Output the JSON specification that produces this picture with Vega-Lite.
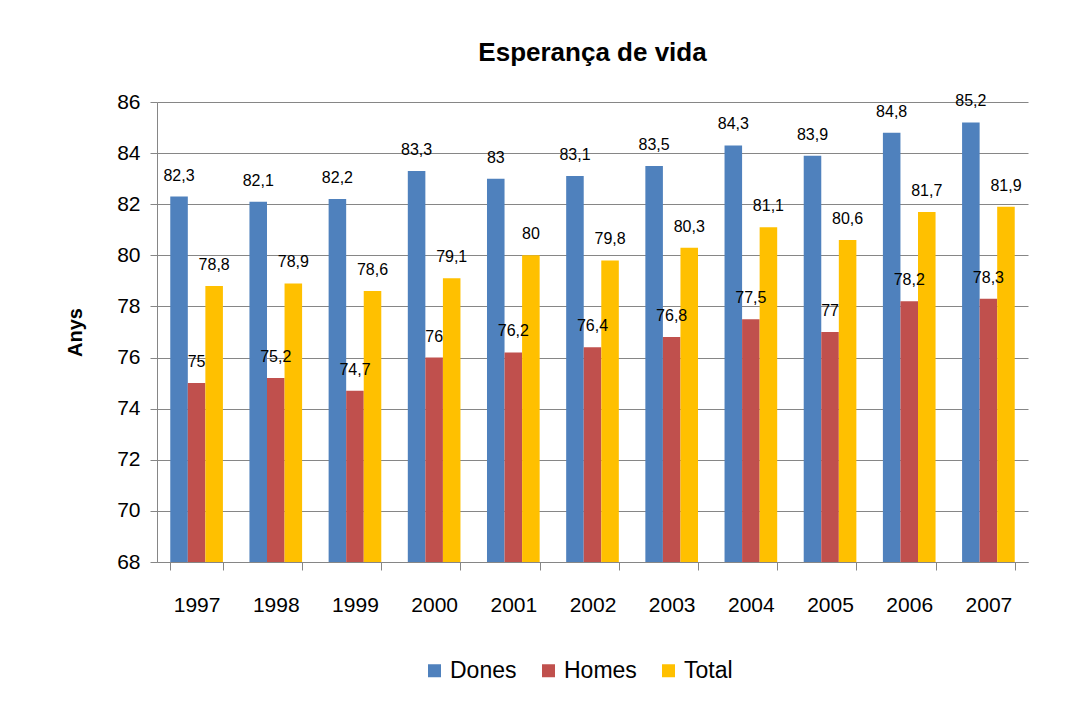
{
  "$schema": "https://vega.github.io/schema/vega-lite/v6.json",
  "width": 871,
  "height": 460,
  "autosize": {"type": "none"},
  "padding": {"left": 157, "top": 102, "right": 39, "bottom": 144},
  "background": "white",
  "title": {"text": "Esperança de vida", "font": "Liberation Sans", "fontSize": 26, "fontWeight": "bold", "color": "#000000", "anchor": "middle", "offset": 25},
  "config": {
    "view": {"stroke": null},
    "locale": {"number": {"decimal": ",", "thousands": ".", "grouping": [3], "currency": ["", " €"]}},
    "font": "Liberation Sans"
  },
  "data": {"values": [
    {"any": "1997", "serie": "Dones", "valor": 82.3}, {"any": "1997", "serie": "Homes", "valor": 75}, {"any": "1997", "serie": "Total", "valor": 78.8},
    {"any": "1998", "serie": "Dones", "valor": 82.1}, {"any": "1998", "serie": "Homes", "valor": 75.2}, {"any": "1998", "serie": "Total", "valor": 78.9},
    {"any": "1999", "serie": "Dones", "valor": 82.2}, {"any": "1999", "serie": "Homes", "valor": 74.7}, {"any": "1999", "serie": "Total", "valor": 78.6},
    {"any": "2000", "serie": "Dones", "valor": 83.3}, {"any": "2000", "serie": "Homes", "valor": 76}, {"any": "2000", "serie": "Total", "valor": 79.1},
    {"any": "2001", "serie": "Dones", "valor": 83}, {"any": "2001", "serie": "Homes", "valor": 76.2}, {"any": "2001", "serie": "Total", "valor": 80},
    {"any": "2002", "serie": "Dones", "valor": 83.1}, {"any": "2002", "serie": "Homes", "valor": 76.4}, {"any": "2002", "serie": "Total", "valor": 79.8},
    {"any": "2003", "serie": "Dones", "valor": 83.5}, {"any": "2003", "serie": "Homes", "valor": 76.8}, {"any": "2003", "serie": "Total", "valor": 80.3},
    {"any": "2004", "serie": "Dones", "valor": 84.3}, {"any": "2004", "serie": "Homes", "valor": 77.5}, {"any": "2004", "serie": "Total", "valor": 81.1},
    {"any": "2005", "serie": "Dones", "valor": 83.9}, {"any": "2005", "serie": "Homes", "valor": 77}, {"any": "2005", "serie": "Total", "valor": 80.6},
    {"any": "2006", "serie": "Dones", "valor": 84.8}, {"any": "2006", "serie": "Homes", "valor": 78.2}, {"any": "2006", "serie": "Total", "valor": 81.7},
    {"any": "2007", "serie": "Dones", "valor": 85.2}, {"any": "2007", "serie": "Homes", "valor": 78.3}, {"any": "2007", "serie": "Total", "valor": 81.9}
  ]},
  "encoding": {
    "x": {"field": "any", "type": "nominal", "scale": {"paddingInner": 0.335, "paddingOuter": 0.1675},
      "axis": {"title": null, "labelAngle": 0, "labelFontSize": 21, "labelColor": "#000000", "labelPadding": 24, "tickBand": "extent", "tickSize": 8, "tickColor": "#868686", "domainColor": "#868686", "grid": false}},
    "xOffset": {"field": "serie", "type": "nominal", "scale": {"paddingInner": 0, "paddingOuter": 0}},
    "y": {"field": "valor", "type": "quantitative", "scale": {"domain": [68, 86], "zero": false, "nice": false},
      "axis": {"title": "Anys", "titleFontSize": 20, "titleFontWeight": "bold", "titleColor": "#000000", "titlePadding": 31, "values": [68, 70, 72, 74, 76, 78, 80, 82, 84, 86], "labelFontSize": 21, "labelColor": "#000000", "labelPadding": 10, "tickSize": 7, "tickColor": "#868686", "domainColor": "#868686", "gridColor": "#868686", "gridOpacity": 1}}
  },
  "layer": [
    {
      "mark": {"type": "bar", "clip": true},
      "encoding": {
        "y2": {"datum": 68},
        "color": {"field": "serie", "type": "nominal", "scale": {"domain": ["Dones", "Homes", "Total"], "range": ["#4F81BD", "#C0504D", "#FFC000"]},
          "legend": {"title": null, "orient": "none", "legendX": 266, "legendY": 557, "direction": "horizontal", "symbolType": "square", "symbolSize": 169, "symbolStrokeWidth": 0, "labelFontSize": 23, "labelColor": "#000000", "labelOffset": 4, "columnPadding": 20}}
      }
    },
    {
      "mark": {"type": "text", "baseline": "middle", "align": "center", "dy": -21, "fontSize": 16, "color": "#000000"},
      "encoding": {"text": {"field": "valor", "type": "quantitative", "format": ".3~g"}}
    }
  ]
}
